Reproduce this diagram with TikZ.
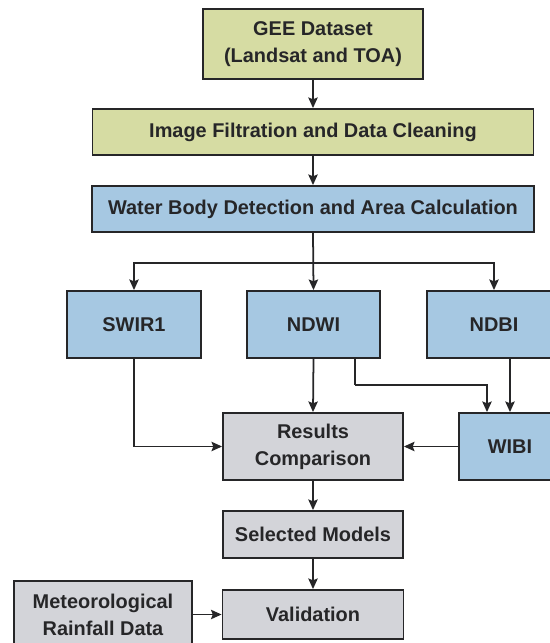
\documentclass[tikz,border=0pt]{standalone}
\usepackage{fontspec}
\setmainfont{Liberation Sans}
\usepackage{tikz}
\usetikzlibrary{calc,positioning,arrows.meta}
\definecolor{boxyellow}{RGB}{214,220,163}
\definecolor{boxblue}{RGB}{166,200,226}
\definecolor{boxgray}{RGB}{211,212,217}
\definecolor{inkgray}{RGB}{38,38,40}
\tikzstyle{box}    = [rectangle, draw=inkgray, line width=1.6pt, text=inkgray, align=center, inner sep=0pt, font=\fontsize{17}{23}\selectfont\bfseries]
\tikzstyle{source} = [box, fill=boxyellow]
\tikzstyle{index}  = [box, fill=boxblue]
\tikzstyle{result} = [box, fill=boxgray]
\tikzstyle{link}   = [line width=1.5pt, draw=inkgray]
\tikzstyle{arrow}  = [link, -{Stealth[length=9pt,width=8pt,inset=1.5pt]}]

\begin{document}
\begin{tikzpicture}[x=0.03cm,y=-0.03cm]
		\useasboundingbox (0,0) rectangle (549,643);

		% data preparation
		\node[source, minimum width=6.6cm, minimum height=2.1cm] (gee) at (313,44) {GEE Dataset\\(Landsat and TOA)};
		\node[source, minimum width=13.23cm, minimum height=1.38cm] (filt) at (313,132) {Image Filtration and Data Cleaning};
		\node[index, minimum width=13.26cm, minimum height=1.38cm] (water) at (313,209) {Water Body Detection and Area Calculation};

		% indices
		\node[index, minimum width=4.02cm, minimum height=2.01cm] (swir) at (134,324.5) {SWIR1};
		\node[index, minimum width=3.99cm, minimum height=2.01cm] (ndwi) at (313.5,324.5) {NDWI};
		\node[index, minimum width=4.02cm, minimum height=2.01cm] (ndbi) at (494,324.5) {NDBI};
		\node[index, minimum width=3.06cm, minimum height=2.01cm] (wibi) at (510,446.5) {WIBI};

		% comparison and validation
		\node[result, minimum width=5.4cm, minimum height=2.01cm] (res) at (313,446.5) {Results\\Comparison};
		\node[result, minimum width=5.4cm, minimum height=1.41cm] (sel) at (313,534.5) {Selected Models};
		\node[result, minimum width=5.43cm, minimum height=1.47cm] (val) at (313,614.5) {Validation};
		\node[result, minimum width=5.34cm, minimum height=2.01cm] (met) at (103,614.5) {Meteorological\\Rainfall Data};

		\coordinate (split) at (313,263);
		\coordinate (bend) at (355,385);

		\draw[arrow] (gee) -- (filt);
		\draw[arrow] (filt) -- (water);
		\draw[arrow] (water.south) -- (ndwi.north);
		\draw[arrow] (split) -| (swir.north);
		\draw[arrow] (split) -| (ndbi.north);

		\draw[arrow] (ndwi.south) -- (res.north);
		\draw[link] (ndwi.south -| bend) -- (bend);
		\draw[arrow] (bend) -| ([xshift=-0.69cm]wibi.north);
		\draw[arrow] (ndbi.south -| wibi.north) -- (wibi.north);
		\draw[arrow] (swir.south) |- (res.west);
		\draw[arrow] (wibi.west) -- (res.east);

		\draw[arrow] (res) -- (sel);
		\draw[arrow] (sel) -- (val);
		\draw[arrow] (met) -- (val);
	\end{tikzpicture}
\end{document}
